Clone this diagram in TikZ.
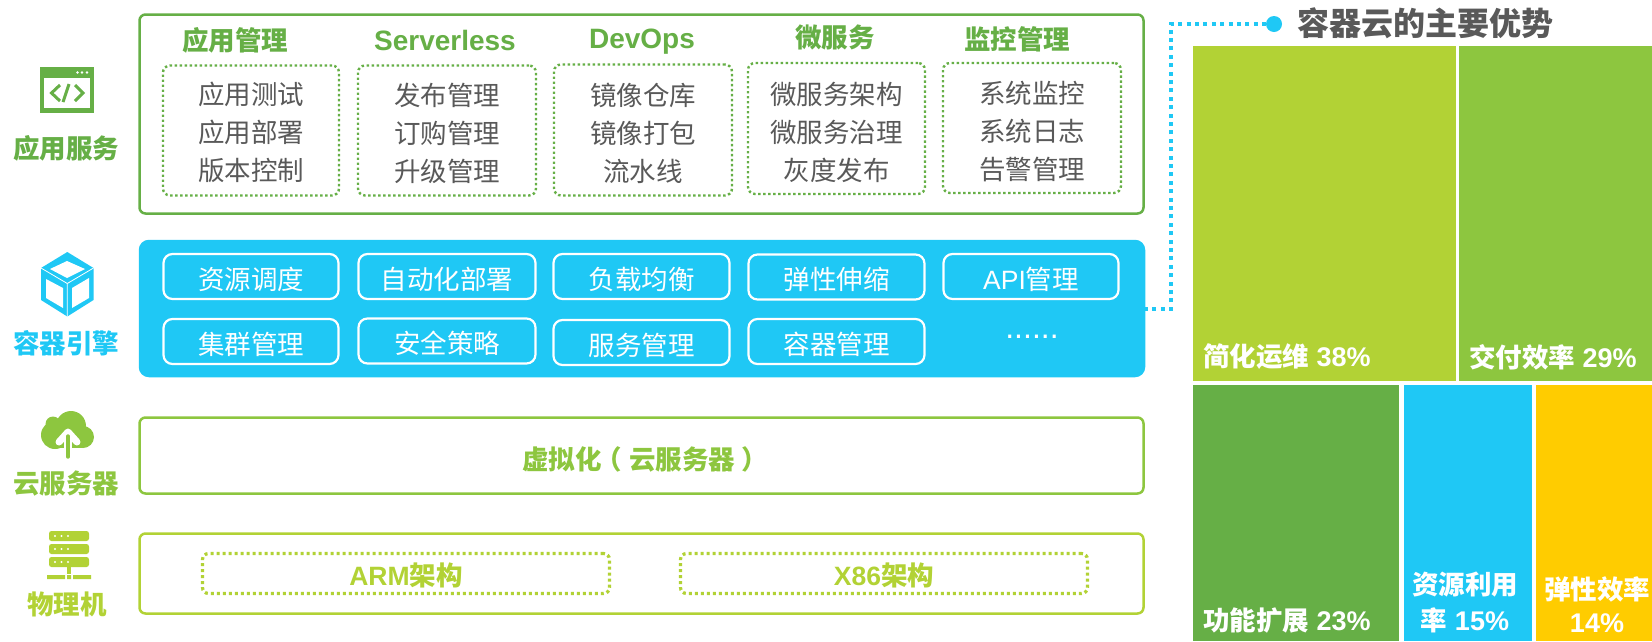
\documentclass[tikz,border=0pt]{standalone}
\usepackage{fontspec}
\setmainfont{Liberation Sans}
\newfontfamily\cjk{Noto Sans CJK SC}
\definecolor{gA}{HTML}{66AF46}
\definecolor{gB}{HTML}{8DC63F}
\definecolor{gC}{HTML}{B2D235}
\definecolor{blu}{HTML}{1FC8F5}
\definecolor{yel}{HTML}{FFCC00}
\definecolor{txt}{HTML}{595959}
\tikzset{
  outerbox/.style={draw,line width=2.5pt,rounded corners=6pt,inner sep=0pt,outer sep=0pt},
  dotbox/.style={draw=gA,line width=2.4pt,dash pattern=on 2.4pt off 2.6pt,rounded corners=7pt,inner sep=0pt,outer sep=0pt},
  items/.style={align=center,text=txt,inner sep=0pt,font=\fontsize{26.5}{38}\selectfont\cjk},
  dotboxC/.style={draw=gC,line width=3.2pt,dash pattern=on 3pt off 3pt,rounded corners=6pt,inner sep=0pt,outer sep=0pt,
     text=gC,font=\fontsize{26.5}{30}\selectfont\bfseries,text height=27pt,text depth=3pt},
  pill/.style={draw=white,line width=2.2pt,rounded corners=9pt,inner sep=0pt,outer sep=0pt,
     text=white,font=\fontsize{26.5}{30}\selectfont\cjk,minimum height=45pt,text height=28pt,text depth=3pt},
  hdr/.style={text=gA,font=\fontsize{26.5}{30}\selectfont\cjk\bfseries,inner sep=0pt},
  hdrl/.style={text=gA,font=\fontsize{28}{30}\selectfont\bfseries,inner sep=0pt},
  side/.style={font=\fontsize{26.5}{30}\selectfont\cjk\bfseries,inner sep=0pt},
  tlabel/.style={text=white,font=\fontsize{27}{36}\selectfont\bfseries,inner sep=0pt,align=center},
}
\newcommand{\zh}[1]{{\fontsize{26.5}{36}\selectfont\cjk\bfseries #1}}
\begin{document}
\begin{tikzpicture}[x=1pt,y=-1pt]
\useasboundingbox (0,0) rectangle (1652,641);
% panels
\node[outerbox,draw=gA,minimum width=1004,minimum height=199] (apps) at (641.5,114) {};
\node[outerbox,draw=blu,fill=blu,rounded corners=9pt,minimum width=1004,minimum height=135] (engine) at (642,308.5) {};
\node[outerbox,draw=gB,minimum width=1004,minimum height=76] (virt) at (641.5,455.5) {};
\node[outerbox,draw=gC,minimum width=1004,minimum height=80] (phys) at (641.5,573.5) {};
% application headers
\node[hdr] (h1) at (235,40) {应用管理};
\node[hdrl] (h2) at (445,40) {Serverless};
\node[hdrl] (h3) at (642,42) {DevOps};
\node[hdr] (h4) at (835,37) {微服务};
\node[hdr] (h5) at (1017,39) {监控管理};
% application groups
\node[dotbox,minimum width=176,minimum height=130] (g1) at (251,130.5) {};
\node[dotbox,minimum width=178,minimum height=130] (g2) at (447,130.5) {};
\node[dotbox,minimum width=178,minimum height=131] (g3) at (643,130) {};
\node[dotbox,minimum width=177,minimum height=131] (g4) at (836.5,128.5) {};
\node[dotbox,minimum width=178,minimum height=130] (g5) at (1032,128) {};
\node[items] (g1t) at (251,132) {应用测试\\应用部署\\版本控制};
\node[items] (g2t) at (447,133) {发布管理\\订购管理\\升级管理};
\node[items] (g3t) at (643,133) {镜像仓库\\镜像打包\\流水线};
\node[items] (g4t) at (836.5,132.5) {微服务架构\\微服务治理\\灰度发布};
\node[items] (g5t) at (1032,131.5) {系统监控\\系统日志\\告警管理};
% engine pills
\node[pill,minimum width=175] (p1) at (251,276.5) {资源调度};
\node[pill,minimum width=177] (p2) at (447,276.5) {自动化部署};
\node[pill,minimum width=176] (p3) at (641.5,276.5) {负载均衡};
\node[pill,minimum width=176] (p4) at (836.5,277) {弹性伸缩};
\node[pill,minimum width=175] (p5) at (1031,276.5) {{\fontspec{Liberation Sans}API}管理};
\node[pill,minimum width=175] (p6) at (251,341.5) {集群管理};
\node[pill,minimum width=177] (p7) at (447,341) {安全策略};
\node[pill,minimum width=176] (p8) at (641.5,342.5) {服务管理};
\node[pill,minimum width=176] (p9) at (836.5,341.5) {容器管理};
\node[text=white,font=\fontsize{32}{32}\selectfont,inner sep=0pt] (p10) at (1032,337) {......};
% virt / phys
\node[anchor=west,text=gB,font=\fontsize{26.5}{30}\selectfont\cjk\bfseries,inner sep=0pt] (vt) at (522,459) {虚拟化\hspace{-6pt}（\hspace{7pt}云服务器\hspace{6pt}）};
\node[dotboxC,minimum width=407,minimum height=40] (arm) at (406,573.5) {ARM\zh{架构}};
\node[dotboxC,minimum width=407,minimum height=40] (x86) at (884,573.5) {X86\zh{架构}};
% side labels
\node[side,text=gA] (s1) at (66,148) {应用服务};
\node[side,text=blu] (s2) at (66,343) {容器引擎};
\node[side,text=gB] (s3) at (66,484) {云服务器};
\node[side,text=gC] (s4) at (67,604) {物理机};
% app icon
\fill[gA] (40,67) rectangle (94,113);
\fill[white] (44,78) rectangle (90,108);
\foreach \x in {77.5,82,87} \fill[white] (\x,72.5) circle (1.4);
\draw[gA,line width=3pt] (60,85) -- (51.5,93) -- (60,101);
\draw[gA,line width=3pt] (75,85) -- (83,93) -- (75,101);
\draw[gA,line width=3pt] (69,84) -- (63,102);
% cube icon
\fill[blu] (67.3,252) -- (93.5,268) -- (93.5,300) -- (67.3,316.5) -- (41,300) -- (41,268) -- cycle;
\draw[white,line width=.8pt] (41,268) -- (67.3,283.5) -- (93.5,268) (67.3,283.5) -- (67.3,316.5);
\fill[white] (67,261) -- (85,269) -- (67,278) -- (50,269) -- cycle;
\fill[white] (46,279) -- (63,288) -- (63,308) -- (46,298) -- cycle;
\fill[white] (89,278) -- (72,288) -- (72,308) -- (89,298) -- cycle;
% cloud icon
\fill[gB] (55,435) circle (14) (53,424) circle (7.5) (71,426) circle (15) (83,437) circle (11);
\fill[gB] (55,430) rectangle (83,448);
\draw[white,line width=7pt,line join=round,line cap=round] (59,442) -- (68,432) -- (77,442);
\draw[white,line width=8pt] (68,434) -- (68,450);
\draw[gB,line width=3.4pt,line cap=round] (68,436) -- (68,457);
% server icon
\foreach \y in {531,544,557} {
  \fill[gC,rounded corners=2.5pt] (49,\y) rectangle (89,\y+10);
  \foreach \x in {55,61.5,68} \fill[white] (\x,\y+5) circle (1.2);
}
\fill[gC] (67,567) rectangle (71,574);
\fill[gC] (47,575) rectangle (65,579) (67,575) rectangle (71,579) (73,575) rectangle (91,579);
% treemap
\fill[gC] (1193,46) rectangle (1455.5,381);
\fill[gB] (1459,46) rectangle (1652,381);
\fill[gA] (1193,385) rectangle (1399,641);
\fill[blu] (1403.5,385) rectangle (1532,641);
\fill[yel] (1536,385) rectangle (1652,641);
\node[tlabel,anchor=west] (t1) at (1203,357) {\zh{简化运维} 38\%};
\node[tlabel,anchor=west] (t2) at (1469,357) {\zh{交付效率} 29\%};
\node[tlabel,anchor=west] (t3) at (1203,620) {\zh{功能扩展} 23\%};
\node[tlabel] (t4) at (1465,602.5) {\zh{资源利用}\\\zh{率} 15\%};
\node[tlabel,font=\fontsize{27}{33}\selectfont\bfseries] (t5) at (1597,605) {\zh{弹性效率}\\14\%};
% title & connector
\node[text=txt,font=\fontsize{32}{34}\selectfont\cjk\bfseries,inner sep=0pt] (title) at (1425,23) {容器云的主要优势};
\node[circle,fill=blu,inner sep=0pt,minimum size=16pt] (dot) at (1274,24) {};
\coordinate (c1) at (1171,309);
\coordinate (c2) at (1171,24);
\draw[blu,line width=4pt,dash pattern=on 4pt off 4.4pt] (engine.east |- c1) -- (c1) -- (c2) -- (dot);
\end{tikzpicture}
\end{document}
